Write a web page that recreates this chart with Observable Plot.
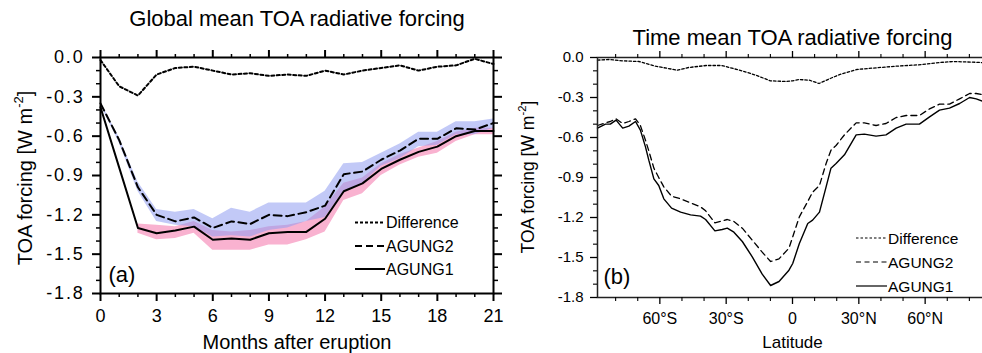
<!DOCTYPE html>
<html><head><meta charset="utf-8">
<script src="https://cdn.jsdelivr.net/npm/d3@7"></script>
<script src="https://cdn.jsdelivr.net/npm/@observablehq/plot@0.6"></script>
<style>
html,body{margin:0;padding:0;background:#fff;overflow:hidden}
#wrap{position:relative;width:982px;height:353px;overflow:hidden;background:#fff}
#wrap svg{position:absolute;top:0}
</style></head><body><div id="wrap"></div>
<script>
// ---------- Panel (a): global mean vs months ----------
const months   = [0,1,2,3,4,5,6,7,8,9,10,11,12,13,14,15,16,17,18,19,20,21];
const diffA    = [-0.02,-0.22,-0.29,-0.13,-0.08,-0.07,-0.10,-0.13,-0.12,-0.14,-0.13,-0.14,-0.10,-0.13,-0.10,-0.08,-0.06,-0.10,-0.07,-0.06,-0.01,-0.05];
const agung2A  = [-0.35,-0.63,-0.99,-1.20,-1.25,-1.22,-1.30,-1.25,-1.27,-1.20,-1.21,-1.18,-1.13,-0.89,-0.87,-0.78,-0.71,-0.62,-0.62,-0.54,-0.55,-0.50];
const agung1A  = [-0.38,-0.84,-1.30,-1.34,-1.32,-1.29,-1.39,-1.38,-1.39,-1.34,-1.33,-1.33,-1.23,-1.02,-0.96,-0.85,-0.78,-0.72,-0.68,-0.60,-0.56,-0.56];
const agung2Hi = [-0.34,-0.61,-0.95,-1.16,-1.18,-1.16,-1.23,-1.15,-1.18,-1.11,-1.11,-1.11,-1.02,-0.81,-0.80,-0.73,-0.66,-0.57,-0.57,-0.49,-0.49,-0.47];
const agung2Lo = [-0.36,-0.65,-1.02,-1.25,-1.28,-1.29,-1.37,-1.36,-1.37,-1.32,-1.30,-1.25,-1.22,-1.02,-0.96,-0.83,-0.77,-0.68,-0.67,-0.59,-0.59,-0.54];
const agung1Hi = [null,null,-1.27,-1.28,-1.29,-1.25,-1.32,-1.33,-1.32,-1.29,-1.28,-1.25,-1.14,-0.96,-0.92,-0.81,-0.74,-0.69,-0.64,-0.57,-0.54,-0.54];
const agung1Lo = [null,null,-1.34,-1.39,-1.38,-1.34,-1.47,-1.47,-1.47,-1.43,-1.43,-1.39,-1.33,-1.09,-1.04,-0.90,-0.82,-0.76,-0.73,-0.64,-0.59,-0.59];
const monthTicks = [0,3,6,9,12,15,18,21];
const monthMinor = [1,2,4,5,7,8,10,11,13,14,16,17,19,20];
const forcingTicks = [0,-0.3,-0.6,-0.9,-1.2,-1.5,-1.8];
const forcingMinor = [-0.1,-0.2,-0.4,-0.5,-0.7,-0.8,-1.0,-1.1,-1.3,-1.4,-1.6,-1.7];

// ---------- Panel (b): time mean vs latitude ----------
const latB     = [-88.2,-84.6,-82.4,-79.8,-76.8,-74.0,-71.0,-68.8,-66.5,-65.0,-62.7,-60.5,-58.2,-54.7,-50.6,-46.1,-41.6,-39.3,-35.1,-31.8,-29.5,-26.5,-22.7,-18.2,-13.7,-9.9,-6.1,-1.6,0.1,3.1,6.9,9.1,12.2,15.2,17.4,19.7,23.5,28.8,32.5,37.8,42.3,46.9,51.4,57.4,62.0,66.5,71.0,75.6,80.1,83.1,86.3,88.2];
const agung1B  = [-0.53,-0.50,-0.50,-0.47,-0.53,-0.515,-0.48,-0.545,-0.67,-0.77,-0.91,-0.96,-1.06,-1.13,-1.16,-1.18,-1.19,-1.215,-1.30,-1.29,-1.28,-1.31,-1.38,-1.495,-1.625,-1.71,-1.68,-1.595,-1.545,-1.395,-1.245,-1.22,-1.16,-0.97,-0.83,-0.795,-0.73,-0.58,-0.575,-0.59,-0.58,-0.53,-0.50,-0.50,-0.445,-0.395,-0.38,-0.345,-0.30,-0.31,-0.33,-0.335];
const agung2B  = [-0.51,-0.49,-0.48,-0.46,-0.495,-0.48,-0.46,-0.51,-0.62,-0.70,-0.83,-0.90,-0.97,-1.04,-1.06,-1.09,-1.12,-1.15,-1.24,-1.225,-1.215,-1.23,-1.28,-1.37,-1.46,-1.53,-1.51,-1.43,-1.345,-1.195,-1.08,-1.01,-0.96,-0.795,-0.695,-0.66,-0.58,-0.49,-0.49,-0.51,-0.495,-0.45,-0.435,-0.435,-0.385,-0.35,-0.35,-0.31,-0.27,-0.27,-0.28,-0.285];
const latDiff  = [-88.2,-83,-77,-69.5,-62,-52,-47,-39,-32,-24,-17,-10,-3,0,3,7.6,12,16.7,21,29,36,47,57,65,72.5,81.6,88.2];
const diffB    = [-0.02,-0.015,-0.025,-0.03,-0.065,-0.095,-0.075,-0.06,-0.06,-0.095,-0.13,-0.175,-0.18,-0.175,-0.165,-0.17,-0.195,-0.16,-0.13,-0.09,-0.08,-0.065,-0.055,-0.04,-0.03,-0.035,-0.04];
const latTicks = [-60,-30,0,30,60];
const latTickLabels = ["60°S","30°S","0","30°N","60°N"];
const latMinor = [-80,-70,-50,-40,-20,-10,10,20,40,50,70,80];

const seriesNames = ["Difference","AGUNG2","AGUNG1"];
const FONT = "'Liberation Sans', Arial, Helvetica, sans-serif";
const fmt = d => d.toFixed(1);
const wrap = document.getElementById("wrap");

// tables built from the arrays
const tA = months.map((m,i)=>({m, d:diffA[i], a1:agung1A[i], a2:agung2A[i], h2:agung2Hi[i], l2:agung2Lo[i],
  h1: agung1Hi[i]==null?NaN:agung1Hi[i], l1: agung1Lo[i]==null?NaN:agung1Lo[i]}));
const tB = latB.map((lat,i)=>({lat, a1:agung1B[i], a2:agung2B[i]}));
const tD = latDiff.map((lat,i)=>({lat, d:diffB[i]}));

function addYTitle(svg, cx, cy, fs) {
  const t = d3.select(svg).append("text")
    .attr("transform", `translate(${cx},${cy}) rotate(-90)`)
    .attr("text-anchor","middle").attr("dy","0.35em")
    .attr("font-size", fs).attr("font-family", FONT).attr("fill","black");
  t.append("tspan").text("TOA forcing [W m");
  t.append("tspan").attr("font-size", fs*0.65).attr("dy", -fs*0.45).text("-2");
  t.append("tspan").attr("dy", fs*0.45).text("]");
}
function addLegend(svg, x0, x1, ys, fs, sw, dashes) {
  const g = d3.select(svg).append("g").attr("font-size", fs).attr("font-family", FONT).attr("text-anchor","start");
  seriesNames.forEach((name,i)=>{
    g.append("line").attr("x1",x0).attr("x2",x1).attr("y1",ys[i]).attr("y2",ys[i])
      .attr("stroke","black").attr("stroke-width",sw).attr("stroke-dasharray",dashes[i]);
    g.append("text").attr("x",x1+1).attr("y",ys[i]).attr("dy","0.36em").attr("text-anchor","start").attr("fill","black").text(name);
  });
}

// ---------- draw (a) ----------
const plotA = Plot.plot({
  width: 500, height: 353,
  marginLeft: 100, marginRight: 7, marginTop: 57, marginBottom: 60,
  x: {domain: [0, 21], label: null},
  y: {domain: [-1.8, 0], label: null},
  style: {fontFamily: FONT, background: "transparent", overflow: "visible", color: "black"},
  marks: [
    Plot.areaY(tA, {x: "m", y1: "l1", y2: "h1", fill: "#f9b2d0"}),
    Plot.areaY(tA, {x: "m", y1: "l2", y2: "h2", fill: "#8f9df0", fillOpacity: 0.55}),
    Plot.lineY(tA, {x: "m", y: "d", stroke: "black", strokeWidth: 2, strokeDasharray: "3,2.5"}),
    Plot.lineY(tA, {x: "m", y: "a2", stroke: "black", strokeWidth: 2, strokeDasharray: "8,4.5"}),
    Plot.lineY(tA, {x: "m", y: "a1", stroke: "black", strokeWidth: 2}),
    Plot.frame({stroke: "black", strokeWidth: 2}),
    Plot.axisX({ticks: monthTicks, anchor: "bottom", tickSize: 8, strokeWidth: 2, tickPadding: 8, fontSize: 18, label: null}),
    Plot.axisX({ticks: monthMinor, anchor: "bottom", tickSize: 4, strokeWidth: 1.5, tickFormat: () => "", label: null}),
    Plot.axisX({ticks: monthTicks, anchor: "top", tickSize: 8, strokeWidth: 2, tickFormat: () => "", label: null}),
    Plot.axisX({ticks: monthMinor, anchor: "top", tickSize: 4, strokeWidth: 1.5, tickFormat: () => "", label: null}),
    Plot.axisY({ticks: forcingTicks, anchor: "left", tickSize: 8, strokeWidth: 2, tickPadding: 8, fontSize: 18, tickFormat: fmt, label: null}),
    Plot.axisY({ticks: forcingMinor, anchor: "left", tickSize: 4, strokeWidth: 1.5, tickFormat: () => "", label: null}),
    Plot.axisY({ticks: forcingTicks, anchor: "right", tickSize: 8, strokeWidth: 2, tickFormat: () => "", label: null}),
    Plot.axisY({ticks: forcingMinor, anchor: "right", tickSize: 4, strokeWidth: 1.5, tickFormat: () => "", label: null}),
    Plot.text(["Global mean TOA radiative forcing"], {frameAnchor: "top", lineAnchor: "middle", dy: -39, fontSize: 22}),
    Plot.text(["Months after eruption"], {frameAnchor: "bottom", lineAnchor: "middle", dy: 49, fontSize: 20}),
    Plot.text(["(a)"], {frameAnchor: "bottom-left", lineAnchor: "middle", dx: 8, dy: -19, fontSize: 22, textAnchor: "start"})
  ]
});
plotA.style.left = "0px";
d3.select(plotA).selectAll('[aria-label="y-axis tick label"] text').attr("letter-spacing", "1.8px");
addYTitle(plotA, 25, 178, 20);
addLegend(plotA, 355, 385, [222.5, 246, 269], 16, 2, ["3,2", "7,4", null]);
wrap.appendChild(plotA);

// ---------- draw (b) ----------
const plotB = Plot.plot({
  width: 487, height: 353,
  marginLeft: 97, marginRight: 0, marginTop: 57, marginBottom: 56,
  x: {domain: [-88.2, 88.2], label: null},
  y: {domain: [-1.8, 0], label: null},
  style: {fontFamily: FONT, background: "transparent", overflow: "visible", color: "black"},
  marks: [
    Plot.lineY(tD, {x: "lat", y: "d", stroke: "black", strokeWidth: 1.3, strokeDasharray: "2.5,2"}),
    Plot.lineY(tB, {x: "lat", y: "a2", stroke: "black", strokeWidth: 1.3, strokeDasharray: "6,4"}),
    Plot.lineY(tB, {x: "lat", y: "a1", stroke: "black", strokeWidth: 1.4}),
    Plot.frame({stroke: "#222", strokeWidth: 1.5}),
    Plot.axisX({ticks: latTicks, anchor: "bottom", tickSize: 7, strokeWidth: 1.3, tickPadding: 8, fontSize: 16,
      tickFormat: d => latTickLabels[latTicks.indexOf(d)], label: null}),
    Plot.axisX({ticks: latMinor, anchor: "bottom", tickSize: 4, strokeWidth: 1.1, tickFormat: () => "", label: null}),
    Plot.axisX({ticks: latTicks, anchor: "top", tickSize: 7, strokeWidth: 1.3, tickFormat: () => "", label: null}),
    Plot.axisX({ticks: latMinor, anchor: "top", tickSize: 4, strokeWidth: 1.1, tickFormat: () => "", label: null}),
    Plot.axisY({ticks: forcingTicks, anchor: "left", tickSize: 7, strokeWidth: 1.3, tickPadding: 7, fontSize: 15, tickFormat: fmt, label: null}),
    Plot.axisY({ticks: forcingMinor, anchor: "left", tickSize: 4, strokeWidth: 1.1, tickFormat: () => "", label: null}),
    Plot.text(["Time mean TOA radiative forcing"], {frameAnchor: "top", lineAnchor: "middle", dy: -20, fontSize: 22}),
    Plot.text(["Latitude"], {frameAnchor: "bottom", lineAnchor: "middle", dy: 45, fontSize: 17}),
    Plot.text(["(b)"], {frameAnchor: "bottom-left", lineAnchor: "middle", dx: 6, dy: -21, fontSize: 22, textAnchor: "start"})
  ]
});
plotB.style.left = "500px";
addYTitle(plotB, 28, 177, 17.5);
addLegend(plotB, 356, 387, [238, 262, 286], 15.5, 1.2, ["2.5,2", "5,3.5", null]);
wrap.appendChild(plotB);
</script>
</body></html>
